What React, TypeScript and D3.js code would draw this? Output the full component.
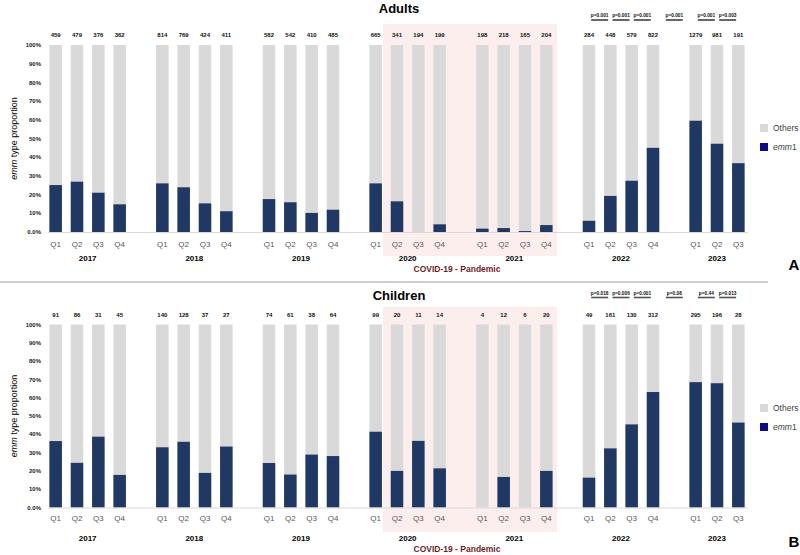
import React from 'react';
import * as d3 from 'd3';

const YEARS = ['2017', '2018', '2019', '2020', '2021', '2022', '2023'];
const QUARTERS = ['Q1', 'Q2', 'Q3', 'Q4'];
const QUARTERS_PER_YEAR = [4, 4, 4, 4, 4, 4, 3];

const ADULT_COUNTS = [459, 479, 376, 362, 814, 769, 424, 411, 582, 542, 410, 485, 665, 341, 194, 199, 198, 218, 165, 204, 284, 448, 579, 822, 1279, 981, 191];
const ADULT_EMM1 = [25.1, 26.9, 21.0, 14.8, 26.0, 23.9, 15.3, 11.1, 17.6, 15.9, 10.2, 11.9, 26.0, 16.4, 0, 4.1, 1.8, 2.1, 0.5, 3.7, 6.0, 19.3, 27.4, 45.0, 59.5, 47.2, 36.8];
const CHILD_COUNTS = [91, 86, 31, 45, 140, 128, 37, 27, 74, 61, 38, 64, 99, 20, 11, 14, 4, 12, 6, 20, 49, 161, 130, 312, 295, 196, 28];
const CHILD_EMM1 = [36.3, 24.4, 38.7, 17.8, 32.9, 35.9, 18.9, 33.3, 24.3, 18.0, 28.9, 28.1, 41.4, 20.0, 36.4, 21.4, 0, 16.7, 0, 20.0, 16.3, 32.3, 45.4, 63.1, 68.5, 67.9, 46.4];

const P_PAIRS = [
  ['2022-Q1', '2022-Q2'],
  ['2022-Q2', '2022-Q3'],
  ['2022-Q3', '2022-Q4'],
  ['2022-Q4', '2023-Q1'],
  ['2023-Q1', '2023-Q2'],
  ['2023-Q2', '2023-Q3'],
];
const ADULT_PVALUES = ['p=0.001', 'p=0.001', 'p=0.001', 'p=0.001', 'p=0.001', 'p=0.003'];
const CHILD_PVALUES = ['p=0.018', 'p=0.006', 'p=0.001', 'p=0.08', 'p=0.44', 'p=0.013'];

const Y_TICKS = [0, 10, 20, 30, 40, 50, 60, 70, 80, 90, 100];
const PANDEMIC_START = '2020-Q2';
const PANDEMIC_END = '2021-Q4';

const FONT = 'Liberation Sans, Arial, Helvetica, sans-serif';
const GRAY = '#d9d9d9';
const BLUE = '#203864';
const LEGEND_BLUE = '#0c0c8a';

// Build bar keys and slot domain (with a gap slot between year groups)
const BAR_KEYS: { key: string; year: string; q: string }[] = [];
const DOMAIN: string[] = [];
YEARS.forEach((y, yi) => {
  for (let i = 0; i < QUARTERS_PER_YEAR[yi]; i++) {
    const key = `${y}-${QUARTERS[i]}`;
    BAR_KEYS.push({ key, year: y, q: QUARTERS[i] });
    DOMAIN.push(key);
  }
  if (yi < YEARS.length - 1) DOMAIN.push(`gap-${y}`);
});

const x = d3.scaleBand<string>().domain(DOMAIN).range([45, 749]).paddingInner(0.414).paddingOuter(0.207);

type PanelCfg = {
  title: string;
  titleY: number;
  yBase: number;
  yTop: number;
  counts: number[];
  values: number[];
  pvals: string[];
  pTextY: number;
  pLineY: number;
  pLineColor: string;
  pLineWidth: number;
  countY: number;
  qY: number;
  yearY: number;
  covidY: number;
  pinkTop: number;
  pinkBottom: number;
  legOthersY: number;
  legEmmY: number;
  letter: string;
  letterY: number;
};

function Panel({ c }: { c: PanelCfg }) {
  const y = d3.scaleLinear().domain([0, 100]).range([c.yBase, c.yTop]);
  const bw = x.bandwidth();
  const cx = (k: string) => (x(k) as number) + bw / 2;
  const pinkX0 = (x(PANDEMIC_START) as number) - 7.7;
  const pinkX1 = (x(PANDEMIC_END) as number) + bw + 4.5;
  const yearGroups = YEARS.map((yr) => {
    const ks = BAR_KEYS.filter((b) => b.year === yr);
    const first = x(ks[0].key) as number;
    const last = (x(ks[ks.length - 1].key) as number) + bw;
    return { yr, cx: (first + last) / 2 };
  });
  const midY = (c.yBase + c.yTop) / 2;
  return (
    <g>
      <rect x={pinkX0} y={c.pinkTop} width={pinkX1 - pinkX0} height={c.pinkBottom - c.pinkTop} fill="#fdeeee" />
      <text x={399} y={c.titleY} textAnchor="middle" fontSize={13} fontWeight="bold" fill="#000">{c.title}</text>
      {/* y axis title */}
      <text transform={`translate(17,${midY}) rotate(-90)`} textAnchor="middle" fontSize={9} fill="#000">
        <tspan fontStyle="italic">emm</tspan> type proportion
      </text>
      {Y_TICKS.map((t) => (
        <text key={t} x={41} y={y(t)} dy="0.35em" textAnchor="end" fontSize={6} fontWeight="bold" fill="#222">
          {t === 0 ? '0.0%' : `${t}%`}
        </text>
      ))}
      {BAR_KEYS.map((b, i) => (
        <g key={b.key}>
          <rect x={x(b.key)} y={y(100)} width={bw} height={y(0) - y(100)} fill={GRAY} />
          <rect x={x(b.key)} y={y(c.values[i])} width={bw} height={y(0) - y(c.values[i])} fill={BLUE} />
          <text x={cx(b.key)} y={c.countY} dy="0.35em" textAnchor="middle" fontSize={6} fontWeight="bold" fill="#111">
            {c.counts[i]}
          </text>
          <text x={cx(b.key)} y={c.qY} dy="0.35em" textAnchor="middle" fontSize={8} fill="#595959">
            {b.q}
          </text>
        </g>
      ))}
      <line x1={48} x2={748} y1={c.yBase + 0.5} y2={c.yBase + 0.5} stroke="#d9d9d9" strokeWidth={1} />
      {yearGroups.map((g) => (
        <text key={g.yr} x={g.cx} y={c.yearY} dy="0.35em" textAnchor="middle" fontSize={8} fontWeight="bold" fill="#000">
          {g.yr}
        </text>
      ))}
      <text x={457} y={c.covidY} dy="0.35em" textAnchor="middle" fontSize={8.5} fontWeight="bold" fill="#6e1f1f">
        COVID-19 - Pandemic
      </text>
      {P_PAIRS.map((p, i) => {
        const m = (cx(p[0]) + cx(p[1])) / 2;
        return (
          <g key={i}>
            <text x={m} y={c.pTextY} dy="0.35em" textAnchor="middle" fontSize={4.8} fontWeight="bold" fill="#111">
              {c.pvals[i]}
            </text>
            <line x1={m - 8.5} x2={m + 8.5} y1={c.pLineY} y2={c.pLineY} stroke={c.pLineColor} strokeWidth={c.pLineWidth} />
          </g>
        );
      })}
      {/* legend */}
      <rect x={760} y={c.legOthersY - 4} width={8} height={8} fill={GRAY} />
      <text x={773} y={c.legOthersY} dy="0.35em" fontSize={8.5} fill="#404040">Others</text>
      <rect x={760} y={c.legEmmY - 4} width={8} height={8} fill={LEGEND_BLUE} />
      <text x={773} y={c.legEmmY} dy="0.35em" fontSize={8.5} fill="#404040">
        <tspan fontStyle="italic">emm</tspan>1
      </text>
      <text x={794} y={c.letterY} textAnchor="middle" fontSize={15} fontWeight="bold" fill="#000">{c.letter}</text>
    </g>
  );
}

const PANEL_A: PanelCfg = {
  title: 'Adults', titleY: 13, yBase: 232, yTop: 45,
  counts: ADULT_COUNTS, values: ADULT_EMM1, pvals: ADULT_PVALUES,
  pTextY: 15, pLineY: 20, pLineColor: '#000', pLineWidth: 1.2,
  countY: 35, qY: 244, yearY: 258, covidY: 269,
  pinkTop: 24, pinkBottom: 256, legOthersY: 128, legEmmY: 147,
  letter: 'A', letterY: 270,
};
const PANEL_B: PanelCfg = {
  title: 'Children', titleY: 300, yBase: 507.5, yTop: 324.5,
  counts: CHILD_COUNTS, values: CHILD_EMM1, pvals: CHILD_PVALUES,
  pTextY: 293.3, pLineY: 297.5, pLineColor: '#555', pLineWidth: 1.6,
  countY: 315, qY: 518.3, yearY: 538, covidY: 549,
  pinkTop: 306.7, pinkBottom: 532, legOthersY: 408, legEmmY: 427,
  letter: 'B', letterY: 547,
};

export default function App() {
  return (
    <svg width={800} height={555} style={{ position: 'absolute', left: 0, top: 0, background: '#fff' }} fontFamily={FONT}>
      <rect x={0} y={0} width={800} height={555} fill="#fff" />
      <Panel c={PANEL_A} />
      <line x1={0} x2={768} y1={282} y2={282} stroke="#bfbfbf" strokeWidth={1.5} />
      <Panel c={PANEL_B} />
    </svg>
  );
}
